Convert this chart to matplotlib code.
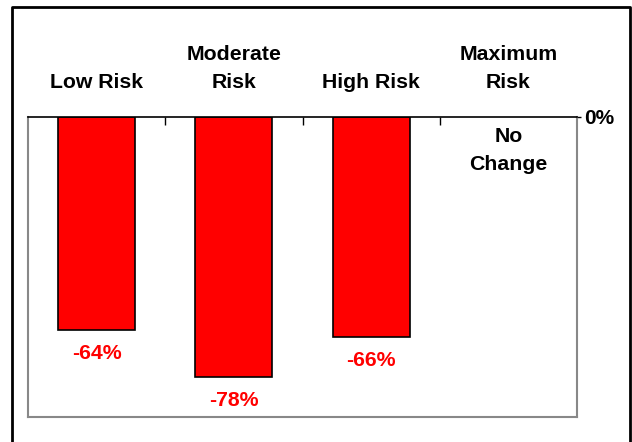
import matplotlib
matplotlib.use("Agg")
import matplotlib.pyplot as plt
from matplotlib.lines import Line2D
import numpy as np

# data
categories = ["Low Risk", "Moderate\nRisk", "High Risk", "Maximum\nRisk"]
values = [-64, -78, -66, None]
value_labels = ["-64%", "-78%", "-66%", None]
empty_note = "No\nChange"

plt.rcParams["font.family"] = ["Liberation Sans", "DejaVu Sans"]
plt.rcParams["font.weight"] = "bold"

fig = plt.figure(figsize=(6.32, 4.42), dpi=100)
ax = fig.add_axes([28 / 632, 25 / 442, 549 / 632, 300 / 442])

x = np.arange(len(categories))
for xi, v, lab in zip(x, values, value_labels):
    if v is None:
        ax.text(xi, -3.0, empty_note, ha="center", va="top", fontsize=15.3,
                fontweight="bold", color="black", linespacing=1.6)
        continue
    ax.bar(xi, v, width=0.56, color="#ff0000", edgecolor="black", linewidth=1.2)
    ax.text(xi, v - 7.0, lab, ha="center", va="center", fontsize=15.3,
            fontweight="bold", color="#ff0000")

ax.set_xlim(-0.5, len(categories) - 0.5)
ax.set_ylim(-90, 0)

# category names above the plot
for xi, name in zip(x, categories):
    ax.text(xi, 1.085, name, transform=ax.get_xaxis_transform(), ha="center",
            va="bottom", fontsize=15.3, fontweight="bold", linespacing=1.55)

# category separators on the zero line
ax.xaxis.tick_top()
ax.set_xticks(x[:-1] + 0.5)
ax.set_xticklabels([])
ax.tick_params(axis="x", direction="in", length=6, width=1, color="black")

ax.yaxis.tick_right()
ax.set_yticks([0])
ax.set_yticklabels(["0%"], fontsize=15, fontweight="bold")
ax.tick_params(axis="y", length=3, width=1, pad=2)

for side in ["left", "right", "bottom"]:
    ax.spines[side].set_color("#888888")
    ax.spines[side].set_linewidth(1.5)
ax.spines["top"].set_color("black")
ax.spines["top"].set_linewidth(1.2)

# outer frame, open at the bottom
x0, x1, y1 = 12 / 632, 630 / 632, 1 - 7 / 442
fig.add_artist(Line2D([x0, x0, x1, x1], [0, y1, y1, 0], color="black",
                      linewidth=2, transform=fig.transFigure))

fig.savefig("out.png", dpi=100)
